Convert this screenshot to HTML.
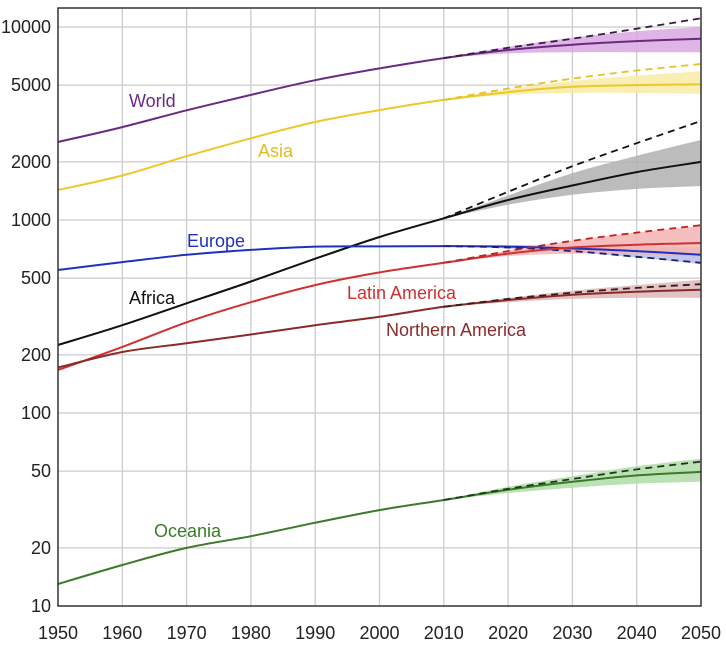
<!DOCTYPE html><html><head><style>body{margin:0;background:#fff}svg{display:block}text{font-family:"Liberation Sans",sans-serif}</style></head><body>
<svg id="s" width="726" height="664" xmlns="http://www.w3.org/2000/svg"></svg>
<script>
const s=document.getElementById('s');
const X=y=>58+(y-1950)*6.43, Y=v=>606-193*Math.log10(v/10);
let h='';
for(let yr=1960;yr<2050;yr+=10)h+=`<line x1="${X(yr)}" y1="8" x2="${X(yr)}" y2="606" stroke="#ccc" stroke-width="1.3"/>`;
[20,50,100,200,500,1000,2000,5000,10000].forEach(v=>h+=`<line x1="58" y1="${Y(v)}" x2="701" y2="${Y(v)}" stroke="#ccc" stroke-width="1.3"/>`);
const yrs=[1950,1960,1970,1980,1990,2000,2010,2020,2030,2040,2050];
const P=[2010,2020,2030,2040,2050];
const S=[
{c:'#6a2a82',dc:'#3a1a48',b:'#d9a8e0',h:[2535,3030,3700,4450,5300,6100,6900],m:[6900,7600,8100,8450,8700],d:[6900,7800,8700,9800,11100],lo:[6900,7300,7400,7400,7400],hi:[6900,7900,8800,9500,10000]},
{c:'#ecc828',dc:'#e8c020',b:'#f8eca8',h:[1430,1700,2140,2650,3220,3710,4190],m:[4190,4600,4900,5000,5050],d:[4190,4800,5400,5950,6430],lo:[4190,4450,4550,4550,4500],hi:[4190,4750,5250,5600,5900]},
{c:'#111',dc:'#111',b:'#b0b0b0',h:[225,285,370,480,630,816,1020],m:[1020,1270,1510,1770,2000],d:[1020,1400,1900,2500,3260],lo:[1020,1200,1350,1450,1500],hi:[1020,1340,1750,2150,2600]},
{c:'#2030c0',dc:'#1a2070',b:'#b8bce8',h:[551,605,660,700,728,730,732],m:[732,728,712,690,660],d:[732,720,690,645,600],lo:[732,712,680,640,590],hi:[732,740,740,730,720]},
{c:'#d03030',dc:'#c02020',b:'#f4b4b4',h:[167,220,295,375,460,535,600],m:[600,670,720,745,760],d:[600,690,780,860,940],lo:[600,650,670,665,650],hi:[600,695,780,860,930]},
{c:'#8a2a2a',dc:'#3a1a1a',b:'#dcb8b8',h:[172,207,230,255,285,315,355],m:[355,385,410,425,435],d:[355,390,420,445,465],lo:[355,375,390,395,395],hi:[355,395,430,460,490]},
{c:'#3a7a2a',dc:'#1a3a1a',b:'#b0dca8',h:[13,16.3,20,23,27,31.4,35.4],m:[35.4,40,44,47.5,49.5],d:[35.4,40.5,45.5,51,56],lo:[35.4,38.5,41,43,44],hi:[35.4,41.5,47,53,58]}
];
function smooth(ys,vs){const p=ys.map((y,i)=>[X(y),Y(vs[i])]);let d='M'+p[0][0].toFixed(1)+','+p[0][1].toFixed(1);
for(let i=0;i<p.length-1;i++){const p0=p[i-1]||p[i],p1=p[i],p2=p[i+1],p3=p[i+2]||p2;
const c1=[p1[0]+(p2[0]-p0[0])/6,p1[1]+(p2[1]-p0[1])/6],c2=[p2[0]-(p3[0]-p1[0])/6,p2[1]-(p3[1]-p1[1])/6];
d+=` C${c1[0].toFixed(1)},${c1[1].toFixed(1)} ${c2[0].toFixed(1)},${c2[1].toFixed(1)} ${p2[0].toFixed(1)},${p2[1].toFixed(1)}`;}return d;}
S.forEach(o=>{const up=smooth(P,o.hi);const lo=smooth(P.slice().reverse(),o.lo.slice().reverse()).replace('M','L');
h+=`<path d="${up} ${lo} Z" fill="${o.b}" opacity="0.85"/>`;});
S.forEach(o=>{
h+=`<path d="${smooth(yrs,o.h.concat(o.m.slice(1)))}" fill="none" stroke="${o.c}" stroke-width="2"/>`;
h+=`<path d="${smooth(P,o.d)}" fill="none" stroke="${o.dc}" stroke-width="1.8" stroke-dasharray="7,5"/>`;
});
h+=`<rect x="58" y="8" width="643" height="598" fill="none" stroke="#333" stroke-width="1.5"/>`;
[10,20,50,100,200,500,1000,2000,5000,10000].forEach(v=>h+=`<text x="51" y="${Y(v)+6}" font-size="18" text-anchor="end" fill="#222">${v}</text>`);
for(let yr=1950;yr<=2050;yr+=10)h+=`<text x="${X(yr)}" y="639" font-size="18" text-anchor="middle" fill="#222">${yr}</text>`;
[['World',129,107,'#6a2a82'],['Asia',258,157,'#e0bc20'],['Europe',187,247,'#2030c0'],['Africa',129,304,'#111'],['Latin America',347,299,'#d03030'],['Northern America',386,336,'#8a2a2a'],['Oceania',154,537,'#3a7a2a']].forEach(t=>h+=`<text x="${t[1]}" y="${t[2]}" font-size="18" fill="${t[3]}">${t[0]}</text>`);
s.innerHTML=h;
</script></body></html>
